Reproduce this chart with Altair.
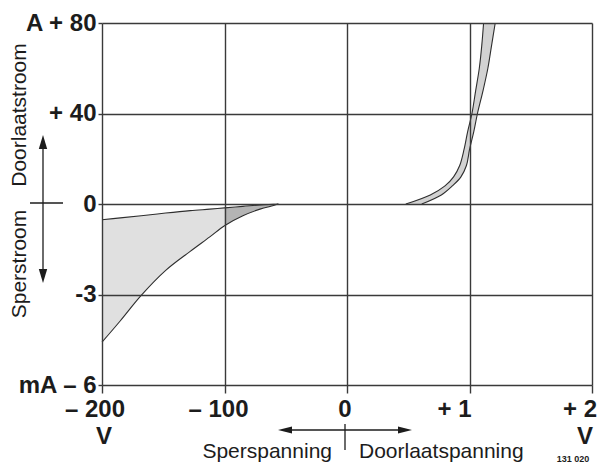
import altair as alt
import pandas as pd

# ---------------- data ----------------
# Reverse region (Sperspanning): voltage in V, current in mA
rev_volt = [-200, -185, -168, -148, -128, -112, -100, -85, -71, -60, -56]
rev_upper_ma = [-0.52, -0.46, -0.39, -0.30, -0.22, -0.17, -0.13, -0.08, -0.03, -0.01, 0.0]
rev_lower_ma = [-4.58, -3.87, -3.03, -2.2, -1.57, -1.09, -0.72, -0.39, -0.17, -0.05, 0.0]

# Forward region (Doorlaatspanning): current in A, voltage in V
fwd_amp = [0, 4, 8, 12, 17, 24, 32, 40, 50, 60, 70, 80]
fwd_left_v = [0.48, 0.68, 0.80, 0.87, 0.92, 0.955, 0.985, 1.02, 1.05, 1.08, 1.10, 1.115]
fwd_right_v = [0.61, 0.77, 0.86, 0.93, 0.975, 1.0, 1.035, 1.065, 1.11, 1.15, 1.18, 1.21]

# axis ticks (real units) and their labels
x_tick_volt = [-200, -100, 0, 1, 2]
x_tick_labels = ["\u2013 200", "\u2013 100", "0", "+ 1", "+ 2"]
y_tick_cur = [80, 40, 0, -3, -6]          # A above zero, mA below zero
y_tick_labels = ["A + 80", "+ 40", "0", "-3", "mA \u2013 6"]


# piecewise display coordinates: reverse volts /100, forward volts as is;
# forward amps /40, reverse milliamps /3
def ux(v):
    return v / 100.0 if v < 0 else float(v)


def wy(i):
    return i / 40.0 if i > 0 else i / 3.0


rev = pd.DataFrame({"volt": rev_volt, "upper": rev_upper_ma, "lower": rev_lower_ma})
rev["u"] = [ux(v) for v in rev["volt"]]
rev["wu"] = rev["upper"] / 3.0
rev["wl"] = rev["lower"] / 3.0

fwd = pd.DataFrame({"amp": fwd_amp, "left": fwd_left_v, "right": fwd_right_v})
fwd["w"] = fwd["amp"] / 40.0

xt = pd.DataFrame({"u": [ux(v) for v in x_tick_volt], "label": x_tick_labels})
yt_vals = [wy(i) for i in y_tick_cur]

label_expr = " : ".join(
    f"datum.value == {v} ? '{l}'" for v, l in zip(yt_vals, y_tick_labels)
) + " : ''"

FONT = "Liberation Sans"
INK = "#1c1c1c"
GRID = "#3a3a3a"
CURVE = "#2e2e2e"
INTERP = "catmull-rom"

xs = alt.Scale(domain=[-2, 2], nice=False, zero=False)
ys = alt.Scale(domain=[-2, 2], nice=False, zero=False)

X_AX = alt.Axis(
    values=[ux(v) for v in x_tick_volt], grid=True, labels=False, ticks=True,
    tickSize=8, tickColor=GRID, tickWidth=1.4, domain=False, title=None,
    gridColor=GRID, gridWidth=1.4, gridOpacity=1, zindex=1)
Y_AX = alt.Axis(
    values=yt_vals, grid=True, labelExpr=label_expr, labelFont=FONT,
    labelFontWeight="bold", labelFontSize=24, labelColor=INK,
    labelPadding=2, labelOverlap=False, tickSize=4, tickColor=GRID,
    tickWidth=1.4, domain=False, title=None, gridColor=GRID,
    gridWidth=1.4, gridOpacity=1, zindex=1)


def X(f):
    return alt.X(f, scale=xs, axis=X_AX, title=None)


def Y(f):
    return alt.Y(f, scale=ys, axis=Y_AX, title=None)


W, H = 490, 362

rev_light = alt.Chart(rev).transform_filter("datum.u <= -1").mark_area(
    color="#e0e0e0", interpolate=INTERP).encode(
    x=X("u:Q"), y=Y("wl:Q"), y2="wu:Q")
rev_dark = alt.Chart(rev).transform_filter("datum.u >= -1").mark_area(
    color="#b4b4b4", interpolate=INTERP).encode(
    x=X("u:Q"), y=Y("wl:Q"), y2="wu:Q")
fwd_band = alt.Chart(fwd).mark_area(
    orient="horizontal", color="#d2d2d2", interpolate=INTERP).encode(
    y=Y("w:Q"), x=X("left:Q"), x2="right:Q")


def rev_line(field):
    return alt.Chart(rev).mark_line(
        color=CURVE, strokeWidth=1.1, interpolate=INTERP).encode(
        x=X("u:Q"), y=Y(f"{field}:Q"))


def fwd_line(field):
    return alt.Chart(fwd).mark_line(
        color=CURVE, strokeWidth=1.1, interpolate=INTERP).encode(
        x=X(f"{field}:Q"), y=Y("w:Q"), order="amp:Q")


# x tick labels: per-label alignment/offset (style, kept in code)
x_label_style = [("center", -7), ("center", -6), ("center", -2), ("right", 2), ("right", 5)]
x_label_layers = []
for i, (al, dx) in enumerate(x_label_style):
    x_label_layers.append(
        alt.Chart(xt.iloc[[i]]).mark_text(
            align=al, baseline="middle", dx=dx, font=FONT, fontWeight="bold",
            fontSize=24, color=INK).encode(
            x=X("u:Q"), y=alt.value(H + 25), text="label:N"))

one = pd.DataFrame({"k": [0]})


def txt(s, x, y, size=21, weight="normal", align="center", baseline="middle", angle=0):
    return alt.Chart(one).mark_text(
        text=s, align=align, baseline=baseline, font=FONT, fontSize=size,
        fontWeight=weight, color=INK, angle=angle).encode(
        x=alt.value(x), y=alt.value(y))


def rule(x, y, x2=None, y2=None, w=1.3):
    enc = dict(x=alt.value(x), y=alt.value(y))
    if x2 is not None:
        enc["x2"] = alt.value(x2)
    if y2 is not None:
        enc["y2"] = alt.value(y2)
    return alt.Chart(one).mark_rule(color=INK, strokeWidth=w).encode(**enc)


def head(path, x, y):
    return alt.Chart(one).mark_point(
        shape=path, size=196, filled=True, color=INK, opacity=1).encode(
        x=alt.value(x), y=alt.value(y))


annot = [
    # vertical current arrow at left
    rule(-59, 118, y2=254),
    head("M0,-1L0.6,1L-0.6,1Z", -59, 119),
    head("M0,1L0.6,-1L-0.6,-1Z", -59, 253),
    rule(-72, 180, x2=-39),
    txt("Doorlaatstroom", -82, 92, angle=270),
    txt("Sperstroom", -82, 241, angle=270),
    # horizontal voltage arrow at bottom
    rule(183, 407, x2=303),
    head("M-1,0L1,-0.5L1,0.5Z", 183, 407),
    head("M1,0L-1,-0.5L-1,0.5Z", 303, 407),
    rule(243, 401, y2=427),
    txt("Sperspanning", 230, 435, align="right", baseline="alphabetic"),
    txt("Doorlaatspanning", 257, 435, align="left", baseline="alphabetic"),
    # units
    txt("V", 2, 414, size=24, weight="bold"),
    txt("V", 483, 414, size=24, weight="bold"),
    txt("131 020", 471, 436, size=9, weight="bold"),
]

chart = alt.layer(
    rev_light, rev_dark, fwd_band,
    rev_line("wu"), rev_line("wl"), fwd_line("left"), fwd_line("right"),
    *x_label_layers, *annot,
).properties(
    width=W, height=H, autosize="none",
    padding={"left": 102, "top": 23, "right": 6, "bottom": 78},
    background="white",
).configure_view(stroke=None)

chart.save("out.html", embed_options={"renderer": "svg", "actions": False})
